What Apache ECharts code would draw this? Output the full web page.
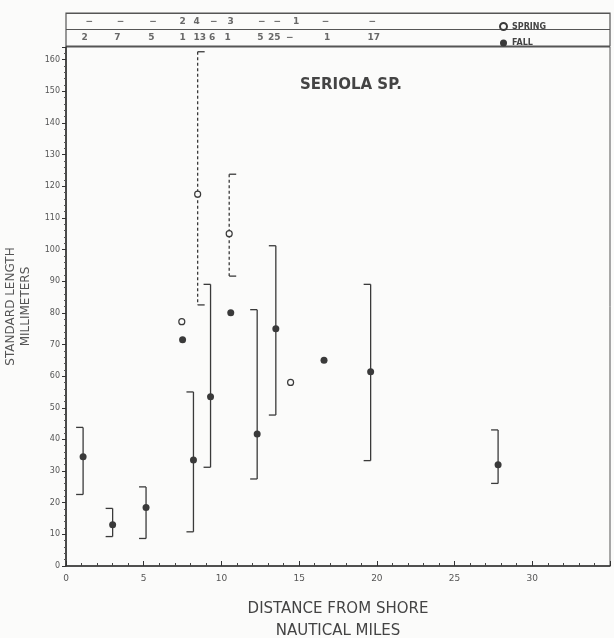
<!DOCTYPE html>
<html>
<head>
<meta charset="utf-8">
<script src="https://cdn.jsdelivr.net/npm/echarts@6/dist/echarts.min.js"></script>
<style>
html,body{margin:0;padding:0;background:#fbfbfa;}
#main{width:614px;height:638px;}
</style>
</head>
<body>
<div id="main"></div>
<script>
// ---- data ----
// FALL (filled circles, solid range bars)
const fallX    = [1.1, 3.0, 5.15, 7.5, 8.2, 9.3, 10.6, 12.3, 13.5, 16.6, 19.6, 27.8];
const fallMean = [34.5, 13, 18.5, 71.5, 33.5, 53.5, 80, 41.7, 75, 65, 61.4, 32];
const fallLow  = [22.6, 9.3, 8.7, null, 10.8, 31.2, null, 27.5, 47.7, null, 33.3, 26.1];
const fallHigh = [43.8, 18.2, 25, null, 55, 89, null, 81, 101.2, null, 89, 43];
// SPRING (open circles, dashed range bars)
const springX    = [7.45, 8.47, 10.5, 14.45];
const springMean = [77.2, 117.5, 105, 58];
const springLow  = [null, 82.5, 91.6, null];
const springHigh = [null, 162.5, 123.8, null];
// sample counts table above the plot
const springCountX    = [1.5, 3.5, 5.6, 7.5, 8.4, 9.5, 10.6, 12.6, 13.6, 14.8, 16.7, 19.7];
const springCountText = ['−', '−', '−', '2', '4', '−', '3', '−', '−', '1', '−', '−'];
const fallCountX    = [1.2, 3.3, 5.5, 7.5, 8.6, 9.4, 10.4, 12.5, 13.4, 14.4, 16.8, 19.8];
const fallCountText = ['2', '7', '5', '1', '13', '6', '1', '5', '25', '−', '1', '17'];
const tableRows = ['SPRING', 'FALL'];

const INK = '#3a3a3a';
const BG = '#fbfbfa';
const FONT = 'DejaVu Sans';

function rangeBar(capDir, dashed) {
  return function (params, api) {
    const x = api.value(0), lo = api.value(1), hi = api.value(2);
    const pt = api.coord([x, hi]);
    const pb = api.coord([x, lo]);
    const cap = 7 * capDir;
    const st = {stroke: INK, lineWidth: 1.3, lineDash: dashed ? [3, 2.5] : null};
    return {
      type: 'group',
      children: [
        {type: 'line', shape: {x1: pt[0], y1: pt[1], x2: pb[0], y2: pb[1]}, style: st},
        {type: 'line', shape: {x1: pt[0], y1: pt[1], x2: pt[0] + cap, y2: pt[1]}, style: {stroke: INK, lineWidth: 1.3}},
        {type: 'line', shape: {x1: pb[0], y1: pb[1], x2: pb[0] + cap, y2: pb[1]}, style: {stroke: INK, lineWidth: 1.3}}
      ]
    };
  };
}
function barData(xs, lows, highs) {
  const out = [];
  xs.forEach((x, i) => { if (lows[i] != null) out.push([x, lows[i], highs[i]]); });
  return out;
}

const chart = echarts.init(document.getElementById('main'), null, {renderer: 'canvas'});
chart.setOption({
  animation: false,
  backgroundColor: BG,
  textStyle: {fontFamily: FONT},
  title: {
    text: 'SERIOLA SP.',
    left: 295, top: 73,
    textStyle: {fontFamily: FONT, fontSize: 15, fontWeight: 'bold', color: '#444'}
  },
  legend: {
    orient: 'vertical',
    left: 494, top: 17,
    itemWidth: 7, itemHeight: 7, itemGap: 8,
    textStyle: {fontFamily: FONT, fontSize: 8, color: '#444', fontWeight: 'bold'},
    data: ['SPRING', 'FALL']
  },
  grid: [
    {left: 66, right: 4, top: 47, bottom: 72, show: true, borderColor: '#555', borderWidth: 1,
     outerBoundsMode: 'none', containLabel: false},
    {left: 66, right: 4, top: 13, height: 33, show: true, borderColor: '#555', borderWidth: 1.2,
     outerBoundsMode: 'none', containLabel: false}
  ],
  xAxis: [
    {
      type: 'value', gridIndex: 0, min: 0, max: 35, interval: 5,
      name: 'DISTANCE FROM SHORE\nNAUTICAL MILES',
      nameLocation: 'middle', nameGap: 32,
      nameTextStyle: {fontFamily: FONT, fontSize: 15, color: '#444', lineHeight: 22},
      axisLine: {lineStyle: {color: '#333', width: 1.6}},
      axisTick: {inside: true, length: 5, lineStyle: {color: '#333'}},
      minorTick: {show: true, splitNumber: 5, length: 3, lineStyle: {color: '#444'}},
      axisLabel: {fontSize: 9, color: '#555', margin: 8, showMaxLabel: false, fontFamily: FONT},
      splitLine: {show: false}
    },
    {
      type: 'value', gridIndex: 1, min: 0, max: 35,
      show: false
    }
  ],
  yAxis: [
    {
      type: 'value', gridIndex: 0, min: 0, max: 164, interval: 10,
      name: 'STANDARD LENGTH\nMILLIMETERS',
      nameLocation: 'middle', nameGap: 28, nameRotate: 90,
      nameTextStyle: {fontFamily: FONT, fontSize: 12, color: '#555', lineHeight: 15},
      axisLine: {lineStyle: {color: '#333', width: 1.6}},
      axisTick: {length: 4, lineStyle: {color: '#333'}},
      minorTick: {show: true, splitNumber: 5, length: 2, lineStyle: {color: '#555'}},
      axisLabel: {fontSize: 8, color: '#555', margin: 6, showMaxLabel: false, fontFamily: FONT},
      splitLine: {show: false}
    },
    {
      type: 'category', gridIndex: 1, data: tableRows, inverse: true,
      axisLine: {show: false}, axisTick: {show: false}, axisLabel: {show: false},
      splitLine: {show: true, lineStyle: {color: '#555', width: 1.2}}
    }
  ],
  series: [
    {
      name: 'SPRING', type: 'scatter', xAxisIndex: 0, yAxisIndex: 0,
      symbol: 'circle', symbolSize: 6,
      itemStyle: {color: BG, borderColor: INK, borderWidth: 1.2, opacity: 1},
      data: springX.map((x, i) => [x, springMean[i]]), z: 3
    },
    {
      name: 'FALL', type: 'scatter', xAxisIndex: 0, yAxisIndex: 0,
      symbol: 'circle', symbolSize: 7,
      itemStyle: {color: INK, opacity: 1},
      data: fallX.map((x, i) => [x, fallMean[i]]), z: 3
    },
    {
      name: 'FALL', type: 'custom', xAxisIndex: 0, yAxisIndex: 0,
      renderItem: rangeBar(-1, false),
      data: barData(fallX, fallLow, fallHigh),
      encode: {x: 0, y: [1, 2]}, clip: true, z: 2
    },
    {
      name: 'SPRING', type: 'custom', xAxisIndex: 0, yAxisIndex: 0,
      renderItem: rangeBar(1, true),
      data: barData(springX, springLow, springHigh),
      encode: {x: 0, y: [1, 2]}, clip: true, z: 2
    },
    {
      type: 'scatter', xAxisIndex: 1, yAxisIndex: 1, symbolSize: 0, silent: true,
      data: springCountX.map((x, i) => [x, 'SPRING', springCountText[i]]),
      label: {show: true, position: 'inside', formatter: p => p.value[2],
              fontSize: 9, fontWeight: 'bold', color: '#444', fontFamily: FONT}
    },
    {
      type: 'scatter', xAxisIndex: 1, yAxisIndex: 1, symbolSize: 0, silent: true,
      data: fallCountX.map((x, i) => [x, 'FALL', fallCountText[i]]),
      label: {show: true, position: 'inside', formatter: p => p.value[2],
              fontSize: 9, fontWeight: 'bold', color: '#444', fontFamily: FONT}
    }
  ]
});
</script>
</body>
</html>
